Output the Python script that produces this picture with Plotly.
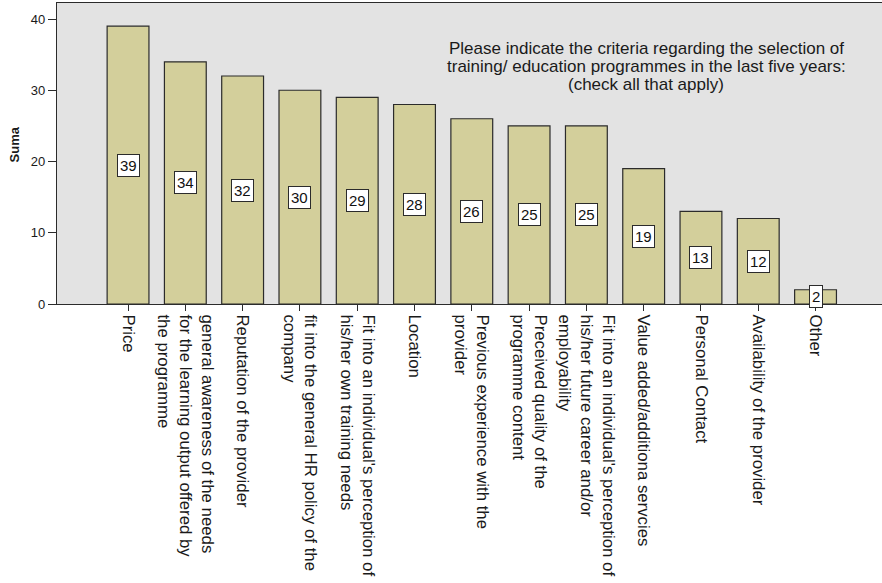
import plotly.graph_objects as go

# Selection criteria (tick labels, wrapped) and number of responses
categories = [
    "Price",
    "general awareness of the needs<br>for the learning output offered by<br>the programme",
    "Reputation of the provider",
    "fit into the general HR policy of the<br>company",
    "Fit into an individual's perception of<br>his/her own training needs",
    "Location",
    "Previous experience with the<br>provider",
    "Preceived quality of the<br>programme content",
    "Fit into an individual's perception of<br>his/her future career and/or<br>employability",
    "Value added/additiona servcies",
    "Personal Contact",
    "Availability of the provider",
    "Other",
]
counts = [39, 34, 32, 30, 29, 28, 26, 25, 25, 19, 13, 12, 2]

y_ticks = [0, 10, 20, 30, 40]
y_title = "Suma"
title_lines = [
    "Please indicate the criteria regarding the selection of",
    "training/ education programmes in the last five years:",
    "(check all that apply)",
]

FONT = "Liberation Sans, Arial, Helvetica, sans-serif"
INK = "#2b2b2b"

fig = go.Figure(
    go.Bar(
        x=categories,
        y=counts,
        width=0.73,
        marker=dict(color="#d3cf9b", line=dict(color=INK, width=1.2)),
        hoverinfo="x+y",
    )
)

annotations = []
# Value boxes at the middle of each bar
for cat, v in zip(categories, counts):
    annotations.append(dict(
        x=cat, y=v / 2, xref="x", yref="y", text=str(v), showarrow=False,
        font=dict(family=FONT, size=15, color="#111"),
        bgcolor="white", bordercolor=INK, borderwidth=1, borderpad=2,
    ))

# Question text inside the plot area
for i, line in enumerate(title_lines):
    annotations.append(dict(
        x=0.714, y=0.848 - i * 0.059, xref="paper", yref="paper",
        text=line, showarrow=False, xanchor="center", yanchor="middle",
        font=dict(family=FONT, size=17, color="#1a1a1a"),
    ))

# Vertical axis title
annotations.append(dict(
    x=-0.051, y=0.53, xref="paper", yref="paper", text="<b>" + y_title + "</b>",
    showarrow=False, textangle=-90, xanchor="center", yanchor="middle",
    font=dict(family=FONT, size=13, color="#1a1a1a"),
))

fig.update_layout(
    width=882, height=583,
    margin=dict(l=57, r=0, t=3, b=279, autoexpand=False),
    paper_bgcolor="white",
    plot_bgcolor="#e3e3e3",
    showlegend=False,
    font=dict(family=FONT, color="#1a1a1a"),
    annotations=annotations,
    xaxis=dict(
        range=[-1.24, 13.16],
        automargin=False,
        tickangle=90,
        tickfont=dict(family=FONT, size=16.8, color="#1a1a1a"),
        ticks="outside", ticklen=6, tickcolor=INK, tickwidth=1,
        showline=True, linecolor=INK, linewidth=1.2, mirror=True,
        showgrid=False, zeroline=False,
    ),
    yaxis=dict(
        range=[0, 42.25],
        automargin=False,
        tickvals=y_ticks,
        tickfont=dict(family=FONT, size=13, color="#1a1a1a"),
        ticks="outside", ticklen=8, tickcolor=INK, tickwidth=1,
        showline=True, linecolor=INK, linewidth=1.2,
        showgrid=False, zeroline=False,
    ),
)

fig.write_html("out.html")
